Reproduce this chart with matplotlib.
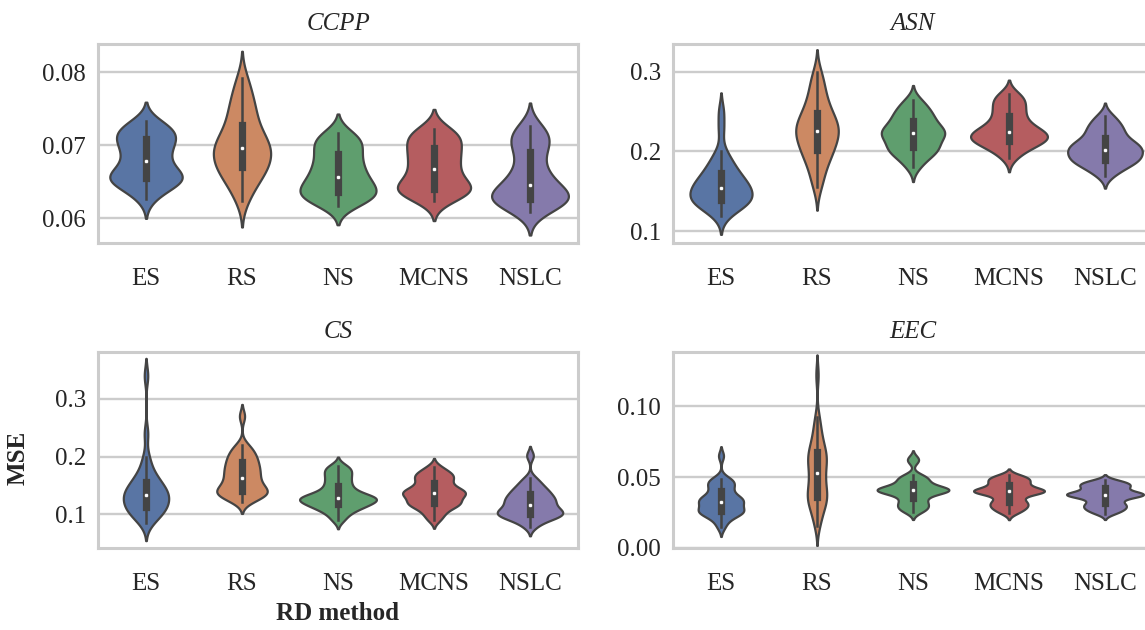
import colorsys
import matplotlib
matplotlib.use("Agg")
import matplotlib.pyplot as plt
import numpy as np
from matplotlib import mlab
from matplotlib.ticker import FormatStrFormatter

methods = ["ES", "RS", "NS", "MCNS", "NSLC"]
base_colors = ["#4C72B0", "#DD8452", "#55A868", "#C44E52", "#8172B3"]

# MSE per run (30 runs per method)
ccpp_es = [0.0626, 0.0635, 0.0641, 0.0645, 0.0648, 0.0651, 0.0653, 0.0654, 0.0656, 0.0658,
           0.0660, 0.0662, 0.0666, 0.0671, 0.0676, 0.0680, 0.0685, 0.0689, 0.0694, 0.0698,
           0.0702, 0.0706, 0.0709, 0.0712, 0.0715, 0.0718, 0.0721, 0.0725, 0.0729, 0.0733]
ccpp_rs = [0.0624, 0.0636, 0.0645, 0.0652, 0.0658, 0.0662, 0.0666, 0.0669, 0.0673, 0.0677,
           0.0681, 0.0685, 0.0688, 0.0691, 0.0694, 0.0698, 0.0701, 0.0704, 0.0708, 0.0712,
           0.0717, 0.0723, 0.0730, 0.0737, 0.0744, 0.0751, 0.0759, 0.0768, 0.0779, 0.0793]
ccpp_ns = [0.0617, 0.0621, 0.0624, 0.0627, 0.0629, 0.0631, 0.0633, 0.0635, 0.0637, 0.0640,
           0.0643, 0.0646, 0.0649, 0.0652, 0.0655, 0.0659, 0.0663, 0.0667, 0.0671, 0.0675,
           0.0679, 0.0684, 0.0689, 0.0694, 0.0698, 0.0702, 0.0706, 0.0710, 0.0714, 0.0717]
ccpp_mcns = [0.0623, 0.0628, 0.0632, 0.0635, 0.0637, 0.0638, 0.0639, 0.0640, 0.0642, 0.0645,
             0.0649, 0.0653, 0.0657, 0.0661, 0.0665, 0.0670, 0.0674, 0.0678, 0.0682, 0.0686,
             0.0690, 0.0694, 0.0698, 0.0702, 0.0706, 0.0710, 0.0713, 0.0716, 0.0720, 0.0723]
ccpp_nslc = [0.0608, 0.0614, 0.0618, 0.0621, 0.0623, 0.0624, 0.0625, 0.0626, 0.0628, 0.0630,
             0.0632, 0.0634, 0.0637, 0.0640, 0.0644, 0.0648, 0.0652, 0.0657, 0.0662, 0.0668,
             0.0675, 0.0686, 0.0693, 0.0698, 0.0703, 0.0708, 0.0712, 0.0717, 0.0722, 0.0727]

asn_es = [0.1196, 0.1260, 0.1300, 0.1330, 0.1350, 0.1365, 0.1378, 0.1388, 0.1400, 0.1420,
          0.1440, 0.1470, 0.1500, 0.1520, 0.1535, 0.1550, 0.1570, 0.1590, 0.1615, 0.1640,
          0.1665, 0.1700, 0.1735, 0.1770, 0.1810, 0.1860, 0.1920, 0.2000, 0.2280, 0.2500]
asn_rs = [0.155, 0.166, 0.175, 0.183, 0.189, 0.194, 0.198, 0.2015, 0.205, 0.209,
          0.2125, 0.216, 0.219, 0.222, 0.2245, 0.227, 0.2295, 0.232, 0.235, 0.238,
          0.2415, 0.245, 0.249, 0.254, 0.259, 0.265, 0.272, 0.280, 0.289, 0.299]
asn_ns = [0.180, 0.187, 0.192, 0.196, 0.199, 0.201, 0.203, 0.2045, 0.207, 0.210,
          0.213, 0.216, 0.2185, 0.2205, 0.222, 0.2232, 0.2245, 0.226, 0.228, 0.2305,
          0.233, 0.236, 0.239, 0.242, 0.245, 0.248, 0.251, 0.255, 0.260, 0.265]
asn_mcns = [0.192, 0.198, 0.2025, 0.206, 0.2085, 0.2105, 0.212, 0.2133, 0.2148, 0.2163,
            0.2178, 0.2192, 0.2205, 0.2218, 0.2232, 0.2248, 0.2265, 0.2285, 0.231, 0.234,
            0.2375, 0.2415, 0.2455, 0.2495, 0.2535, 0.2575, 0.2615, 0.2655, 0.2690, 0.272]
asn_nslc = [0.1697, 0.175, 0.179, 0.182, 0.185, 0.187, 0.188, 0.189, 0.191, 0.193,
            0.195, 0.197, 0.199, 0.201, 0.2015, 0.203, 0.205, 0.207, 0.209, 0.2105,
            0.212, 0.214, 0.2175, 0.222, 0.225, 0.228, 0.231, 0.235, 0.240, 0.245]

cs_es = [0.0848, 0.092, 0.097, 0.101, 0.1045, 0.1075, 0.110, 0.1125, 0.1155, 0.1185,
         0.1215, 0.1245, 0.1275, 0.130, 0.1325, 0.135, 0.1375, 0.140, 0.1425, 0.1455,
         0.149, 0.153, 0.1575, 0.162, 0.167, 0.173, 0.186, 0.200, 0.240, 0.340]
cs_rs = [0.1222, 0.1268, 0.1302, 0.1328, 0.1350, 0.1368, 0.1383, 0.1398, 0.142, 0.145,
         0.148, 0.151, 0.1545, 0.158, 0.1615, 0.1655, 0.169, 0.1725, 0.176, 0.1795,
         0.183, 0.187, 0.191, 0.195, 0.199, 0.2035, 0.208, 0.214, 0.2203, 0.270]
cs_ns = [0.090, 0.098, 0.104, 0.108, 0.111, 0.1135, 0.1155, 0.1175, 0.1195, 0.1215,
         0.1235, 0.125, 0.1263, 0.1275, 0.1285, 0.1295, 0.131, 0.133, 0.1355, 0.1385,
         0.142, 0.1465, 0.151, 0.156, 0.161, 0.166, 0.171, 0.1755, 0.180, 0.1845]
cs_mcns = [0.0904, 0.098, 0.104, 0.109, 0.113, 0.116, 0.118, 0.119, 0.121, 0.124,
           0.127, 0.130, 0.132, 0.134, 0.136, 0.1375, 0.139, 0.141, 0.143, 0.145,
           0.148, 0.152, 0.156, 0.160, 0.163, 0.166, 0.169, 0.172, 0.176, 0.1827]
cs_nslc = [0.0789, 0.086, 0.091, 0.094, 0.096, 0.098, 0.099, 0.100, 0.102, 0.104,
           0.106, 0.108, 0.110, 0.112, 0.114, 0.1185, 0.121, 0.123, 0.125, 0.127,
           0.130, 0.133, 0.136, 0.139, 0.142, 0.146, 0.150, 0.156, 0.1626, 0.202]

eec_es = [0.0146, 0.0185, 0.0210, 0.0228, 0.0240, 0.0248, 0.0252, 0.0256, 0.0262, 0.0270,
          0.0280, 0.0292, 0.0305, 0.0316, 0.0324, 0.0331, 0.0338, 0.0345, 0.0352, 0.0359,
          0.0368, 0.0390, 0.0410, 0.0425, 0.0440, 0.0455, 0.0470, 0.0480, 0.0490, 0.0650]
eec_rs = [0.0158, 0.0210, 0.0250, 0.0285, 0.0310, 0.0330, 0.0345, 0.0358, 0.0375, 0.0395,
          0.0415, 0.0440, 0.0465, 0.0490, 0.0515, 0.0540, 0.0565, 0.0590, 0.0610, 0.0630,
          0.0648, 0.0662, 0.0680, 0.0705, 0.0735, 0.0770, 0.0810, 0.0860, 0.0924, 0.1220]
eec_ns = [0.0255, 0.0268, 0.0280, 0.0292, 0.0304, 0.0316, 0.0330, 0.0345, 0.0362, 0.0378,
          0.0390, 0.0398, 0.0402, 0.0405, 0.0407, 0.0409, 0.0411, 0.0413, 0.0416, 0.0420,
          0.0427, 0.0440, 0.0455, 0.0468, 0.0480, 0.0492, 0.0502, 0.0512, 0.0612, 0.0632]
eec_mcns = [0.0245, 0.0262, 0.0275, 0.0286, 0.0296, 0.0306, 0.0316, 0.0325, 0.0336, 0.0352,
            0.0370, 0.0383, 0.0391, 0.0395, 0.0398, 0.0400, 0.0402, 0.0405, 0.0409, 0.0415,
            0.0424, 0.0436, 0.0448, 0.0458, 0.0467, 0.0476, 0.0485, 0.0494, 0.0503, 0.0512]
eec_nslc = [0.0241, 0.0256, 0.0267, 0.0277, 0.0286, 0.0295, 0.0303, 0.0312, 0.0322, 0.0336,
            0.0350, 0.0360, 0.0367, 0.0371, 0.0374, 0.0377, 0.0379, 0.0382, 0.0386, 0.0392,
            0.0400, 0.0412, 0.0425, 0.0431, 0.0438, 0.0445, 0.0452, 0.0460, 0.0468, 0.0477]

GRAY = "#444444"
GRID = "#cccccc"
FS = 18

plt.rcParams["font.family"] = ["Liberation Serif", "DejaVu Serif"]


def desaturate(c, prop=0.75):
    r, g, b = matplotlib.colors.to_rgb(c)
    h, l, s = colorsys.rgb_to_hls(r, g, b)
    return colorsys.hls_to_rgb(h, l, s * prop)


colors = [desaturate(c) for c in base_colors]


def draw_violins(ax, groups, bw):
    stats = []
    for vals in groups:
        x = np.asarray(vals, dtype=float)
        kde = mlab.GaussianKDE(x, bw_method=bw)
        h = bw * x.std(ddof=1)
        coords = np.linspace(x.min() - 2 * h, x.max() + 2 * h, 200)
        stats.append({"coords": coords, "vals": kde.evaluate(coords),
                      "mean": x.mean(), "median": np.median(x),
                      "min": x.min(), "max": x.max(), "quantiles": np.array([])})
    peak = max(s["vals"].max() for s in stats)
    widths = [0.8 * s["vals"].max() / peak for s in stats]
    parts = ax.violin(stats, positions=range(len(groups)), widths=widths,
                      showextrema=False)
    for body, col in zip(parts["bodies"], colors):
        body.set_facecolor(col)
        body.set_edgecolor(GRAY)
        body.set_linewidth(1.6)
        body.set_alpha(1)

    for i, vals in enumerate(groups):
        x = np.asarray(vals, dtype=float)
        q25, q50, q75 = np.percentile(x, [25, 50, 75])
        iqr = q75 - q25
        lo = x[x >= q25 - 1.5 * iqr].min()
        hi = x[x <= q75 + 1.5 * iqr].max()
        ax.plot([i, i], [lo, hi], color=GRAY, lw=1.8)
        ax.plot([i, i], [q25, q75], color=GRAY, lw=5.2)
        ax.scatter(i, q50, s=10, color="white", edgecolor=GRAY, lw=0.5, zorder=3)


panels = [
    ("CCPP", [ccpp_es, ccpp_rs, ccpp_ns, ccpp_mcns, ccpp_nslc],
     (0.0566, 0.0839), [0.06, 0.07, 0.08], "%.2f", 0.42),
    ("ASN", [asn_es, asn_rs, asn_ns, asn_mcns, asn_nslc],
     (0.0853, 0.3347), [0.1, 0.2, 0.3], "%.1f", 0.40),
    ("CS", [cs_es, cs_rs, cs_ns, cs_mcns, cs_nslc],
     (0.042, 0.3811), [0.1, 0.2, 0.3], "%.1f", 0.30),
    ("EEC", [eec_es, eec_rs, eec_ns, eec_mcns, eec_nslc],
     (0.0, 0.1382), [0.00, 0.05, 0.10], "%.2f", 0.30),
]

W, H = 1145, 630
fig = plt.figure(figsize=(W / 100, H / 100), dpi=100)
boxes = [(98, 44, 480, 199), (673, 44, 480, 199),
         (98, 352, 480, 196), (673, 352, 480, 196)]

for (title, groups, ylim, yticks, fmt, bw), (px, py, pw, ph) in zip(panels, boxes):
    ax = fig.add_axes([px / W, 1 - (py + ph) / H, pw / W, ph / H])
    ax.set_axisbelow(True)
    ax.yaxis.grid(True, color=GRID, lw=1.7)
    ax.xaxis.grid(False)
    for sp in ax.spines.values():
        sp.set_color(GRID)
        sp.set_linewidth(2.2)
    draw_violins(ax, groups, bw)
    ax.set_xlim(-0.5, 4.5)
    ax.set_ylim(*ylim)
    ax.set_yticks(yticks)
    ax.yaxis.set_major_formatter(FormatStrFormatter(fmt))
    ax.set_xticks(range(len(methods)))
    ax.set_xticklabels(methods)
    ax.tick_params(axis="x", length=0, pad=18, labelsize=FS, colors="#262626")
    ax.tick_params(axis="y", length=0, pad=8.5, labelsize=FS, colors="#262626")
    ax.set_title(title, fontsize=FS, style="italic", color="#262626", pad=10)

fig.text(18 / W, 1 - 458 / H, "MSE", rotation=90, fontsize=FS, fontweight="bold",
         ha="center", va="center", color="#262626")
fig.text(338 / W, 1 - 613 / H, "RD method", fontsize=FS, fontweight="bold",
         ha="center", va="center", color="#262626")

fig.savefig("out.png", dpi=100)
